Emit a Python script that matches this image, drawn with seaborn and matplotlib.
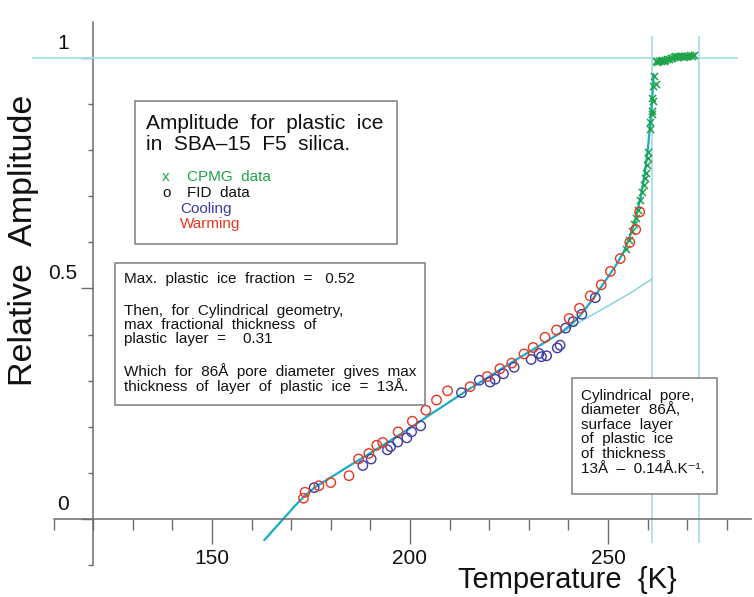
import matplotlib
matplotlib.use("Agg")
import matplotlib.pyplot as plt
import matplotlib.transforms as mtransforms
from matplotlib.patches import Rectangle
import numpy as np
import pandas as pd
import seaborn as sns

sns.set_theme(style="ticks")
plt.rcParams["font.family"] = ["Liberation Sans", "DejaVu Sans"]
plt.rcParams["mathtext.fontset"] = "custom"
plt.rcParams["mathtext.rm"] = "Liberation Sans"
plt.rcParams["mathtext.it"] = "Liberation Sans:italic"

# ---------------- data ----------------
# FID amplitudes, warming run (K, relative amplitude)
warm_T = [173.1, 173.5, 177.0, 180.0, 184.6, 187.0, 189.6, 191.6, 193.1, 197.0,
          200.6, 204.0, 206.7, 209.5, 215.2, 219.5, 222.7, 225.7, 228.8, 231.1,
          234.1, 237.0, 240.2, 242.8, 245.5, 248.3, 250.6, 253.1, 255.5, 257.0,
          258.0]
warm_A = [0.045, 0.058, 0.072, 0.079, 0.094, 0.130, 0.142, 0.160, 0.166, 0.189,
          0.212, 0.236, 0.258, 0.278, 0.287, 0.309, 0.326, 0.338, 0.358, 0.372,
          0.394, 0.410, 0.435, 0.457, 0.484, 0.508, 0.537, 0.565, 0.600, 0.628,
          0.666]

# FID amplitudes, cooling run
cool_T = [175.8, 188.1, 190.2, 194.3, 195.1, 196.9, 199.2, 200.4, 202.7, 213.0,
          217.5, 220.2, 221.5, 223.6, 226.3, 230.6, 232.6, 233.2, 234.5, 237.2,
          237.9, 239.3, 241.2, 243.4, 246.8]
cool_A = [0.068, 0.116, 0.130, 0.150, 0.157, 0.167, 0.176, 0.189, 0.202, 0.274,
          0.301, 0.297, 0.303, 0.315, 0.329, 0.346, 0.359, 0.352, 0.354, 0.371,
          0.377, 0.414, 0.428, 0.444, 0.480]

# CPMG amplitudes
cpmg_T = [254.6, 255.2, 256.1, 256.6, 257.0, 257.7, 258.0, 258.7, 259.1, 259.4,
          259.7, 259.8, 260.0, 260.2, 260.6, 260.6, 261.0, 261.2, 261.4, 261.2,
          261.4, 262.0, 261.5,
          262.0, 262.4, 262.9, 263.3, 263.7, 264.1, 264.5, 265.0, 265.4, 265.8,
          266.2, 266.6, 267.0, 267.4, 267.8, 268.2, 268.7, 269.1, 269.5, 269.9,
          270.3, 270.8, 271.2, 271.6]
cpmg_A = [0.585, 0.606, 0.625, 0.639, 0.653, 0.671, 0.692, 0.710, 0.725, 0.739,
          0.750, 0.767, 0.782, 0.796, 0.846, 0.861, 0.879, 0.885, 0.907, 0.914,
          0.939, 0.943, 0.961,
          0.993, 0.992, 0.994, 0.993, 0.995, 0.994, 0.996, 0.997, 0.998, 0.999,
          1.000, 1.003, 1.004, 1.003, 1.004, 1.005, 1.004, 1.003, 1.004, 1.005,
          1.004, 1.006, 1.005, 1.006]

# Model curve: plastic surface layer plus pore melting
fit_T = [163.2, 168.0, 171.0, 173.5, 176.0, 180.0, 185.0, 190.0, 195.0, 200.0,
         205.0, 210.0, 215.0, 220.0, 225.0, 230.0, 235.0, 238.0, 240.0, 242.0,
         244.0, 246.0, 248.0, 250.0, 252.0, 254.0, 255.5, 257.0, 258.3, 259.3,
         260.1, 260.7, 261.2, 261.5]
fit_A = [-0.046, 0.000, 0.029, 0.051, 0.069, 0.090, 0.117, 0.143, 0.170, 0.197,
         0.226, 0.254, 0.282, 0.309, 0.336, 0.362, 0.388, 0.404, 0.417, 0.432,
         0.452, 0.475, 0.500, 0.525, 0.550, 0.580, 0.612, 0.652, 0.700, 0.750,
         0.805, 0.860, 0.915, 0.965]

# Surface-layer contribution alone, continued up to the pore melting point
layer_T = [236.0, 243.0, 250.0, 256.0, 261.0]
layer_A = [0.393, 0.428, 0.462, 0.492, 0.520]

# Reference levels
full_amplitude = 1.0
pore_melt_T = 261.0
bulk_melt_T = 273.1

x_major = [150, 200, 250]
x_major_labels = ["150", "200", "250"]
x_minor = [110, 120, 130, 140, 160, 170, 180, 190, 210, 220, 230, 240, 260, 270, 280]
y_major = [0.0, 0.5, 1.0]
y_major_labels = ["0", "0.5", "1"]
y_minor = [-0.1, 0.1, 0.2, 0.3, 0.4, 0.6, 0.7, 0.8, 0.9]

# ---------------- colours ----------------
RED = "#e8361f"
BLUE = "#3d3aa6"
GREEN = "#1ea34a"
FIT = "#1aabc6"
LIGHT = "#86d3e2"
REF = "#a9dfe9"
AXC = "#6c6c6c"
BOXC = "#7d7d7d"

W, H = 754, 597
fig = plt.figure(figsize=(W / 100, H / 100), dpi=100)
fig.patch.set_facecolor("white")
ax = fig.add_axes([0.03432, 0.02261, 0.96634, 0.95745])
ax.set_xlim(103, 287)
ax.set_ylim(-0.14, 1.10)
ax.set_facecolor("white")

# reference lines
ax.hlines(full_amplitude, 104.5, 282.8, color=REF, lw=1.3, zorder=3)
ax.vlines([pore_melt_T, bulk_melt_T], -0.052, 1.048, color=REF, lw=1.3, zorder=1)

# curves
sns.lineplot(x=layer_T, y=layer_A, color=LIGHT, lw=1.1, ax=ax, zorder=2)
sns.lineplot(x=fit_T, y=fit_A, color=FIT, lw=1.6, ax=ax, zorder=2)

# data points
sns.scatterplot(x=cpmg_T, y=cpmg_A, marker="x", color=GREEN, s=26,
                linewidth=1.1, ax=ax, zorder=4)
sns.scatterplot(x=cool_T, y=cool_A, marker="o", s=46, facecolor="none",
                edgecolor=BLUE, linewidth=1.0, ax=ax, zorder=5)
sns.scatterplot(x=warm_T, y=warm_A, marker="o", s=46, facecolor="none",
                edgecolor=RED, linewidth=1.0, ax=ax, zorder=5)

# axes: crossing spines
for side in ("top", "right"):
    ax.spines[side].set_visible(False)
ax.spines["left"].set_position(("data", 120))
ax.spines["left"].set_bounds(-0.1, 1.078)
ax.spines["bottom"].set_position(("data", 0))
ax.spines["bottom"].set_bounds(110, 286)
for side in ("left", "bottom"):
    ax.spines[side].set_color(AXC)
    ax.spines[side].set_linewidth(1.1)

ax.set_xticks(x_major)
ax.set_xticklabels(x_major_labels)
ax.set_xticks(x_minor, minor=True)
ax.set_yticks(y_major)
ax.set_yticks(y_minor, minor=True)
ax.tick_params(axis="x", which="major", direction="out", length=18, width=1.0,
               color=AXC, pad=3.5, labelsize=15, labelcolor="#111111")
ax.tick_params(axis="x", which="minor", direction="out", length=7.9, width=1.0, color=AXC)
ax.tick_params(axis="y", which="major", direction="out", length=8.6, width=1.0,
               color=AXC, labelleft=False)
ax.tick_params(axis="y", which="minor", direction="out", length=3.8, width=1.0, color=AXC)
ax.set_xlabel("")
ax.set_ylabel("")

# y tick labels, centred a little above their ticks
lift = mtransforms.ScaledTranslation(0, 5 / 100, fig.dpi_scale_trans)
for v, lab in zip(y_major, y_major_labels):
    ax.text(112.4, v, lab, ha="center", va="bottom", fontsize=15,
            color="#111111", transform=ax.transData + lift)


def px_text(x, y, s, **kw):
    kw.setdefault("va", "baseline")
    kw.setdefault("ha", "left")
    kw.setdefault("color", "#111111")
    return fig.text(x / W, 1 - y / H, s, zorder=6, **kw)


def px_box(x0, y0, x1, y1):
    fig.patches.append(Rectangle((x0 / W, 1 - y1 / H), (x1 - x0) / W, (y1 - y0) / H,
                                 transform=fig.transFigure, facecolor="white",
                                 edgecolor=BOXC, lw=1.1, zorder=5))


# axis titles
fig.text(24 / W, 1 - 240 / H, "Relative  Amplitude", rotation=90, ha="center",
         va="center", fontsize=24.5, color="#111111")
px_text(458, 566, "Temperature  {K}", fontsize=21, va="top")

# legend block
px_box(135, 101, 397, 244)
px_text(146, 129, "Amplitude  for  plastic  ice", fontsize=15)
px_text(146, 150, "in  SBA\u201315  F5  silica.", fontsize=15)
px_text(162, 181, "x", fontsize=11, color=GREEN)
px_text(187, 181, "CPMG  data", fontsize=11, color=GREEN)
px_text(162, 197, "o", fontsize=11)
px_text(187, 197, "FID  data", fontsize=11)
px_text(180, 213, "Cooling", fontsize=11, color=BLUE)
px_text(180, 228, "Warming", fontsize=11, color=RED)

# analysis notes
px_box(115, 263, 425, 405)
px_text(124, 283, "Max.  plastic  ice  fraction  =   0.52", fontsize=11)
px_text(124, 315, "Then,  for  Cylindrical  geometry,", fontsize=11)
px_text(124, 329, "max  fractional  thickness  of", fontsize=11)
px_text(124, 343, "plastic  layer  =    0.31", fontsize=11)
px_text(124, 376, "Which  for  86\u00c5  pore  diameter  gives  max", fontsize=11)
px_text(124, 391, "thickness  of  layer  of  plastic  ice  =  13\u00c5.", fontsize=11)

# model description
px_box(572, 378, 717, 494)
px_text(581, 400, "Cylindrical  pore,", fontsize=11)
px_text(581, 414, "diameter  86\u00c5,", fontsize=11)
px_text(581, 429, "surface  layer", fontsize=11)
px_text(581, 443, "of  plastic  ice", fontsize=11)
px_text(581, 458, "of  thickness", fontsize=11)
px_text(581, 473, "13\u00c5  \u2013  0.14\u00c5.K\u207b\u00b9.", fontsize=11)

fig.savefig("out.png", dpi=100, facecolor="white")
